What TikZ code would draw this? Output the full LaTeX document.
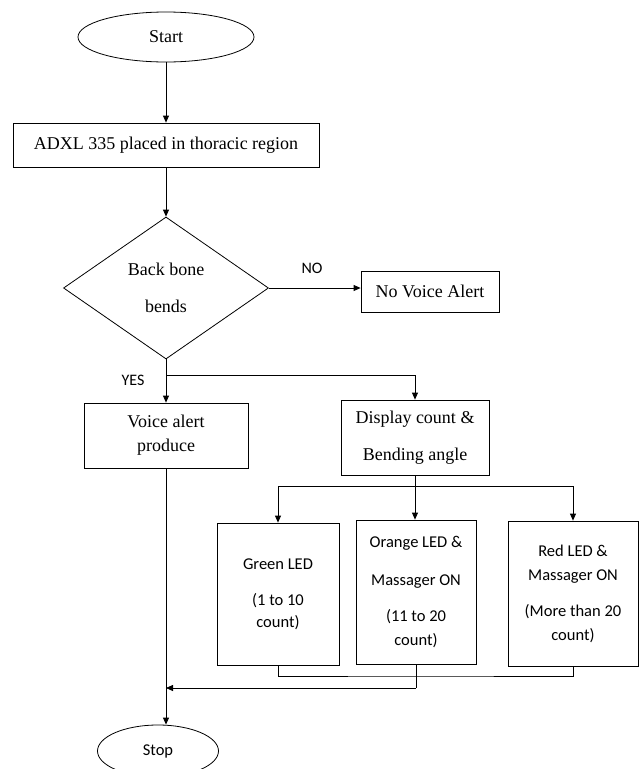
\documentclass[tikz,border=0pt]{standalone}
\usepackage{fontspec}
\setmainfont{Liberation Serif}
\newfontfamily\calfont{Carlito}
\usetikzlibrary{arrows.meta,shapes.geometric}

\begin{document}
\begin{tikzpicture}[x=1pt,y=-1pt,line width=0.8pt,
  box/.style={draw,rectangle,inner sep=0pt,align=center,font=\fontsize{18}{22}\selectfont},
  ledbox/.style={draw,rectangle,inner sep=0pt,align=center,font=\calfont\fontsize{16.5}{22}\selectfont},
  flow/.style={-{Triangle[length=7pt,width=6pt]}},
  tag/.style={font=\calfont\fontsize{16}{19}\selectfont}]
  \useasboundingbox (0,0) rectangle (639,769);

  % terminals
  \node[draw,ellipse,minimum width=176,minimum height=50,inner sep=0pt,font=\fontsize{18}{22}\selectfont] (start) at (166,37) {Start};
  \node[draw,ellipse,minimum width=121,minimum height=52,inner sep=0pt,font=\calfont\fontsize{16.5}{20}\selectfont] (stop) at (158,751) {Stop};

  % main column
  \node[box,minimum width=306,minimum height=44] (adxl) at (166,145) {ADXL 335 placed in thoracic region};
  \node[draw,diamond,minimum width=205,minimum height=142,inner sep=0pt,align=center,font=\fontsize{18}{22}\selectfont] (bend) at (166,288) {Back bone\\[15pt]bends};
  \node[box,minimum width=138,minimum height=41] (novoice) at (430,291.5) {No Voice Alert};
  \node[box,minimum width=164,minimum height=65] (voice) at (166,435.5) {Voice alert\\[2pt]produce};
  \node[box,minimum width=148,minimum height=75] (display) at (415,437.5) {Display count \&\\[15pt]Bending angle};

  % led boxes
  \node[ledbox,minimum width=122,minimum height=142] (green) at (278,594) {Green LED\\[14pt](1 to 10\\count)};
  \node[ledbox,minimum width=120,minimum height=144] (orange) at (416,592) {Orange LED \&\\[16pt]Massager ON\\[14pt](11 to 20\\[2pt]count)};
  \node[ledbox,minimum width=130,minimum height=145] (red) at (573,593.5) {Red LED \&\\[2pt]Massager ON\\[14pt](More than 20\\[2pt]count)};

  \node[tag] (no) at (312,268) {NO};
  \node[tag] (yes) at (133,380) {YES};

  \coordinate (split) at (166,375);
  \coordinate (fork) at (415,486);
  \coordinate (join) at (416,676);
  \coordinate (merge) at (416,688);

  \draw[flow] (start) -- (adxl);
  \draw[flow] (adxl) -- (bend);
  \draw[flow] (bend.east) -- (bend.east -| novoice.west);
  \draw[flow] (bend.south) -- (voice.north);
  \draw[flow] (split) -| (display.north);

  \draw (display.south) -- (fork);
  \draw[flow] (fork) -| (green.north);
  \draw[flow] (fork) -- (fork |- orange.north);
  \draw[flow] (fork) -| (red.north);

  \draw (green.south) |- (join) -| (red.south);
  \draw (orange.south) -- (merge);
  \draw[flow] (merge) -- (merge -| voice.south);
  \draw[flow] (voice.south) -- (voice.south |- stop.north);
\end{tikzpicture}
\end{document}
